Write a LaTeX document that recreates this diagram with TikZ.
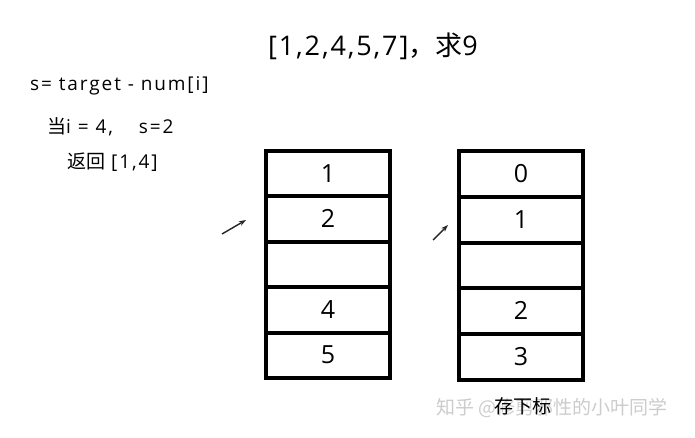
\documentclass[tikz,border=0pt]{standalone}
\usepackage{fontspec}
\setmainfont{Open Sans}
\newfontfamily\cjk{Noto Sans CJK SC}
\newfontfamily\wide[LetterSpace=10]{Open Sans}
\newfontfamily\widetitle[LetterSpace=7]{Open Sans}
\usetikzlibrary{arrows.meta}
\tikzset{
  cell/.style={draw=black, line width=4pt, minimum width=124pt, inner sep=0pt,
    font=\fontsize{25}{25}\selectfont, text height=17pt, text depth=0pt},
  lcell/.style={cell, minimum height=45.4pt},
  rcell/.style={cell, minimum height=45.8pt},
  note/.style={font=\wide\fontsize{19}{19}\selectfont, inner sep=0pt, anchor=west},
  pointer/.style={line width=1.4pt, black!85, -{Stealth[length=7pt,width=5pt]}},
  watermark/.style={font=\cjk\fontsize{19}{19}\selectfont, text=gray!40, inner sep=0pt}
}
\begin{document}
\begin{tikzpicture}[x=1pt,y=-1pt]
\useasboundingbox (0,0) rectangle (695,437);
% title and notes
\node[font=\widetitle\fontsize{27}{27}\selectfont, inner sep=0pt] (title) at (373,46) {[1,2,4,5,7]{\cjk ，求}9};
\node[note] (formula) at (30,86) {s= target - num[i]};
\node[note] (when) at (47,127) {{\cjk 当}i = 4,\hspace{26pt}s=2};
\node[note] (ret) at (67,162) {{\cjk 返回}\hspace{6pt}[1,4]};
% left column
\foreach \i/\t in {0/1,1/2,2/,3/4,4/5}{
  \node[lcell] (l\i) at (328,{151+22.7+45.4*\i}) {\t};
}
% right column
\foreach \i/\t in {0/0,1/1,2/,3/2,4/3}{
  \node[rcell] (r\i) at (521,{151+22.9+45.8*\i}) {\t};
}
% pointers
\coordinate (la) at (222,234);
\coordinate (lb) at (246,220);
\coordinate (ra) at (433,240);
\coordinate (rb) at (448,225);
\draw[pointer] (la) -- (lb);
\draw[pointer] (ra) -- (rb);
% watermark and caption
\node[watermark] (wm) at (552,408) {知乎 @修剪邪性的小叶同学};
\node[font=\cjk\fontsize{19}{19}\selectfont, inner sep=0pt] (cap) at (523,406) {存下标};
\end{tikzpicture}
\end{document}
